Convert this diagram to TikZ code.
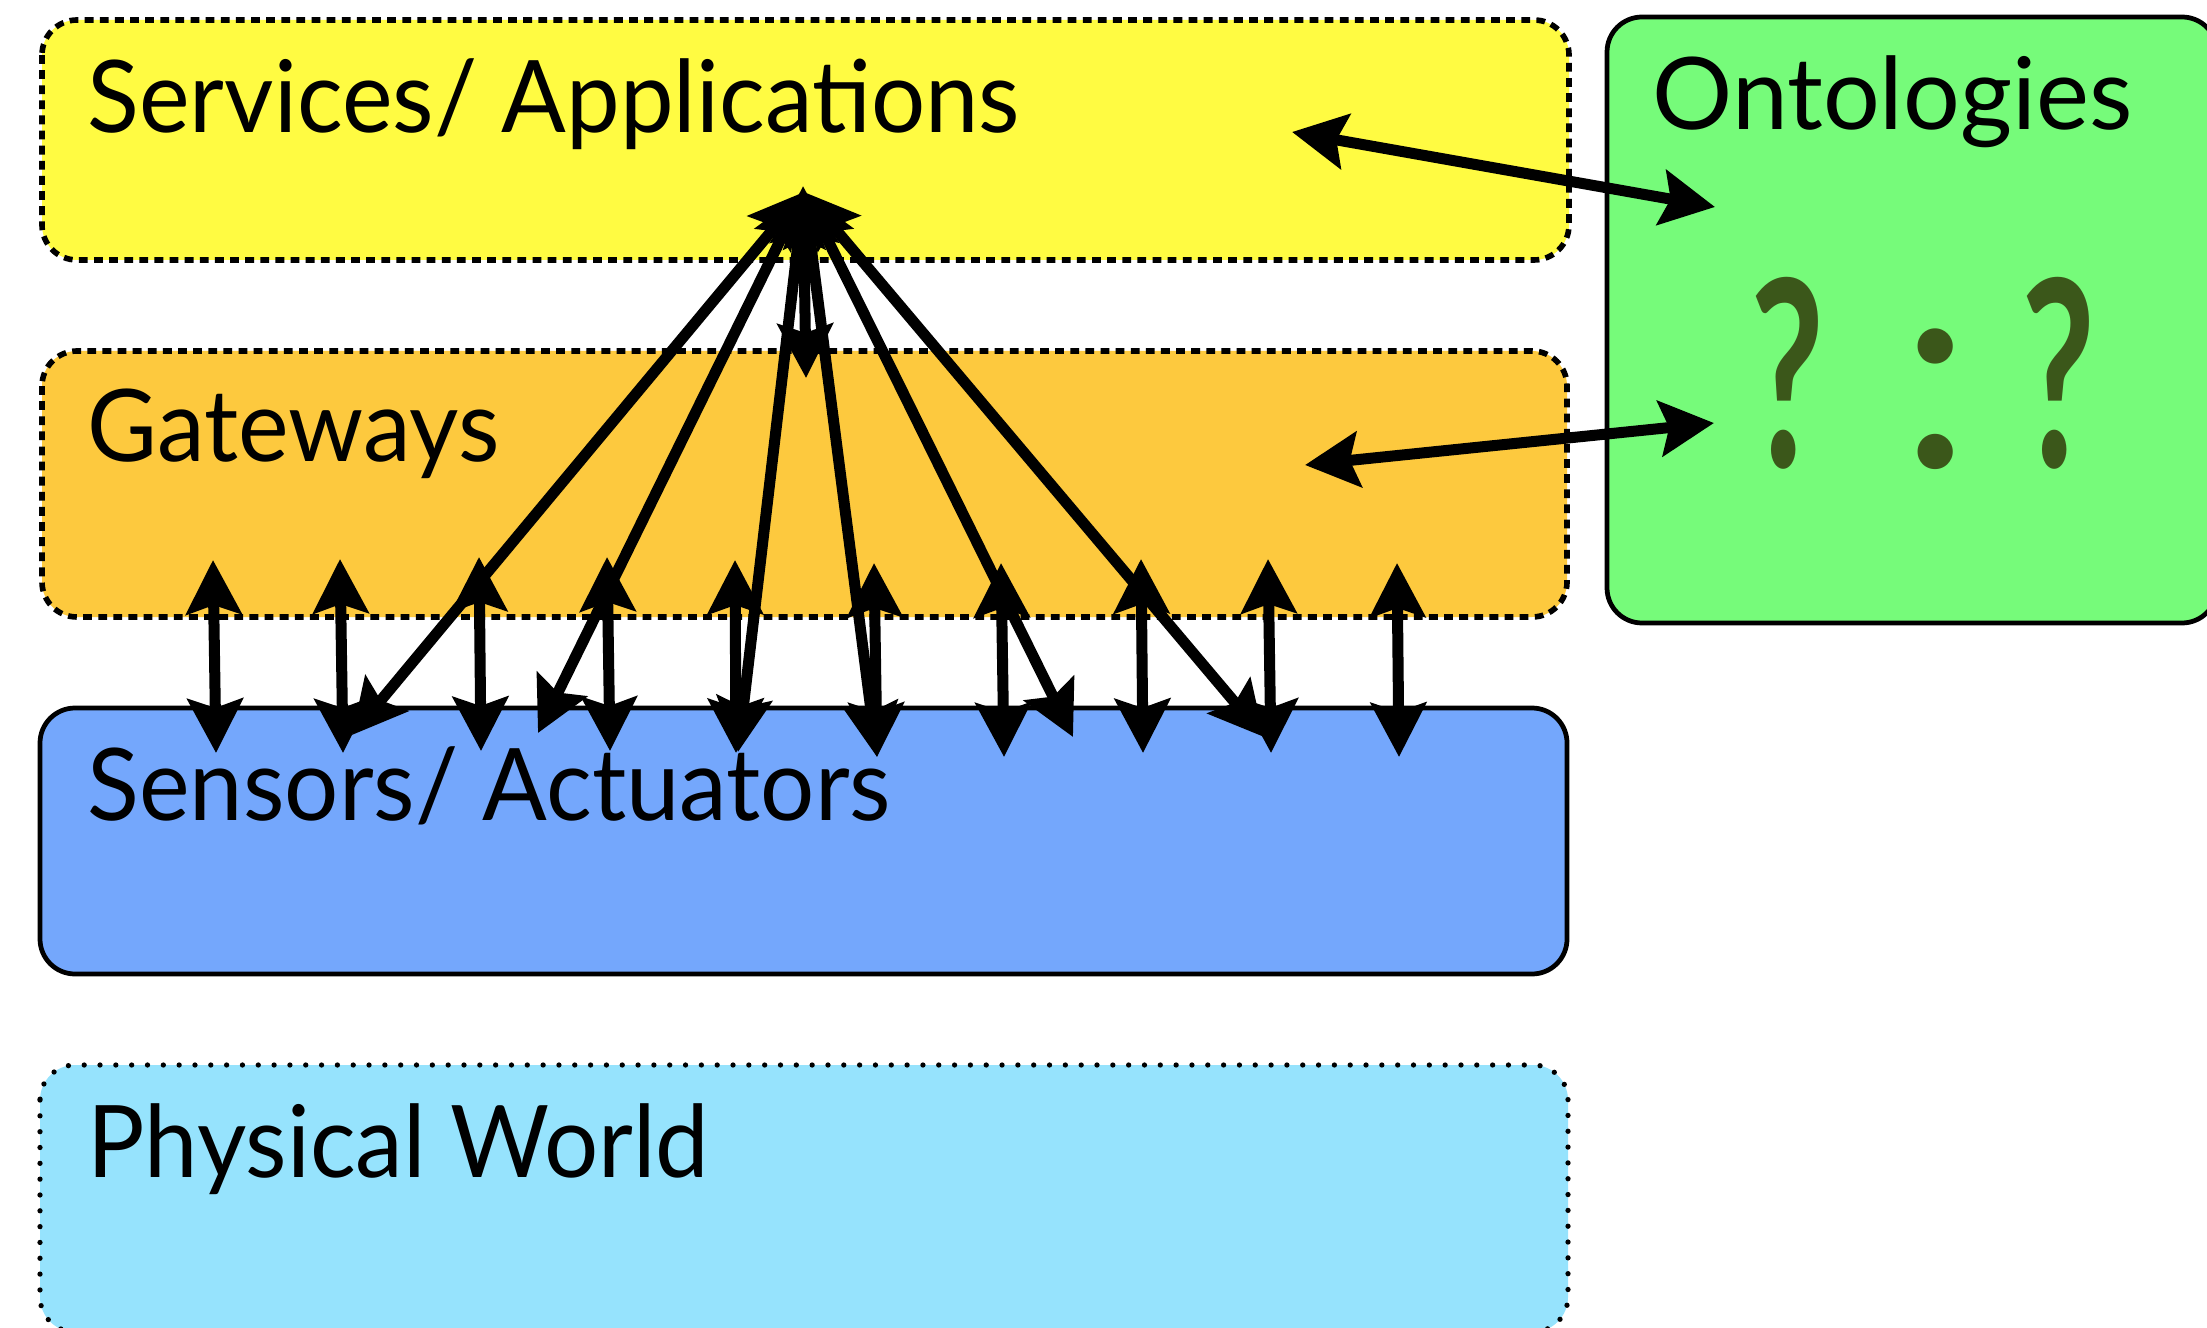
\documentclass[tikz,border=0pt]{standalone}
\usepackage{fontspec}
\setmainfont{Lato}
\newfontfamily\narrowlato{Lato}[FakeStretch=0.955]
\newfontfamily\qnarrow{Lato}[FakeStretch=0.62]
\usetikzlibrary{arrows.meta}
\definecolor{servY}{RGB}{255,251,66}
\definecolor{gateO}{RGB}{253,201,62}
\definecolor{sensB}{RGB}{116,167,252}
\definecolor{physB}{RGB}{150,227,253}
\definecolor{ontoG}{RGB}{118,251,122}
\definecolor{qGreen}{RGB}{59,87,26}
\tikzset{
  dashbox/.style={line width=1.6pt, dash pattern=on 2.5pt off 1.8pt, rounded corners=0.35cm},
  solidbox/.style={line width=1.35pt, rounded corners=0.35cm},
  dotbox/.style={line width=1.5pt, dash pattern=on 0pt off 4.5pt, line cap=round, rounded corners=0.35cm},
  lbl/.style={anchor=base west, inner sep=0pt, font=\narrowlato\fontsize{28.5}{30}\selectfont},
  conn/.style={line width=0.11cm, {Stealth[length=0.54cm,width=0.55cm,inset=0.09cm]}-{Stealth[length=0.54cm,width=0.55cm,inset=0.09cm]}}
}
\begin{document}
\begin{tikzpicture}[x=0.01cm,y=-0.01cm]
\useasboundingbox (0,0) rectangle (2207,1328);
\clip (0,0) rectangle (2207,1328);
% boxes
\draw[dashbox, fill=servY] (42,20) rectangle (1569,260);
\draw[dashbox, fill=gateO] (42,351) rectangle (1567,617);
\draw[solidbox, fill=sensB] (40,708) rectangle (1567,974);
\draw[dotbox, fill=physB] (40,1065) rectangle (1568,1332);
\draw[solidbox, fill=ontoG] (1607,17) rectangle (2217,623);
% labels
\node[lbl] (tServ) at (87,133) {Services/ Applications};
\node[lbl] (tGate) at (87,462) {Gateways};
\node[lbl] (tSens) at (87,820) {Sensors/ Actuators};
\node[lbl] (tPhys) at (87,1177) {Physical World};
\node[lbl, font=\rmfamily\fontsize{28.5}{30}\selectfont] (tOnto) at (1652,130) {Ontologies};
\node[anchor=base west, inner sep=0pt, text=qGreen, font=\bfseries\fontsize{74}{80}\selectfont] (tQ) at (1750,468) {{\qnarrow ?}\hspace{0.76cm}{\mdseries\fontsize{80}{84}\selectfont :}\hspace{0.5cm}{\qnarrow ?}};
% vertical double arrows gateways <-> sensors
\foreach \i/\xa/\ya/\xb/\yb in {1/213/560/216/753, 2/340/559/343/753, 3/479/557/481/751, 4/607/557/610/751, 5/735/560/736/753, 6/874/563/877/757, 7/1001/563/1004/757, 8/1141/559/1143/753, 9/1268/559/1271/753, 10/1397/563/1399/757}{
  \coordinate (gt\i) at (\xa,\ya);
  \coordinate (sb\i) at (\xb,\yb);
  \draw[conn] (gt\i) -- (sb\i);
}
% fan arrows from services apex
\coordinate (apex) at (804,192);
\coordinate (apexTop) at (803,186);
\coordinate (f1) at (352,735);
\coordinate (f2) at (538,733);
\coordinate (f3) at (738,752);
\coordinate (f4) at (806,378);
\coordinate (f5) at (877,757);
\coordinate (f6) at (1073,737);
\coordinate (f7) at (1264,737);
\draw[conn] (apex) -- (f1);
\draw[conn] (apex) -- (f2);
\draw[conn] (apex) -- (f3);
\draw[conn] (apexTop) -- (f4);
\draw[conn] (apex) -- (f5);
\draw[conn] (apex) -- (f6);
\draw[conn] (apex) -- (f7);
% ontology links
\coordinate (sOnt) at (1292,132);
\coordinate (oTop) at (1715,207);
\coordinate (gOnt) at (1305,465);
\coordinate (oBot) at (1714,423);
\draw[conn] (sOnt) -- (oTop);
\draw[conn] (gOnt) -- (oBot);
\end{tikzpicture}
\end{document}
